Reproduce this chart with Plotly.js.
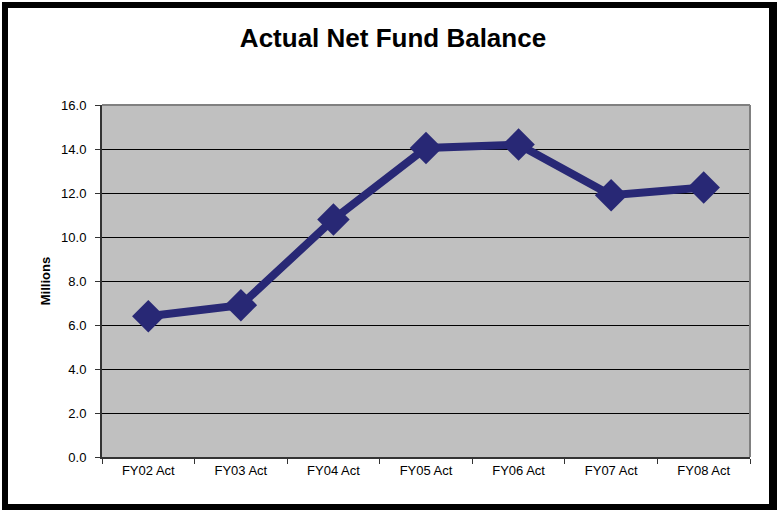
<!DOCTYPE html>
<html>
<head>
<meta charset="utf-8">
<script src="https://cdn.plot.ly/plotly-3.0.1.min.js"></script>
<style>
html,body{margin:0;padding:0;background:#fff;}
#wrap{position:relative;width:779px;height:516px;overflow:hidden;}
#chart{position:absolute;left:0;top:0;width:779px;height:516px;}
#frame{position:absolute;left:2px;top:2px;width:761px;height:496px;border-style:solid;border-color:#000;border-width:6px 8px 6px 6px;pointer-events:none;}
</style>
</head>
<body>
<div id="wrap"><div id="chart"></div><div id="frame"></div></div>
<script>
const categories = ["FY02 Act","FY03 Act","FY04 Act","FY05 Act","FY06 Act","FY07 Act","FY08 Act"];
const netFundBalance = [6.4, 6.9, 10.8, 14.05, 14.2, 11.9, 12.25];
const yTicks = [0,2,4,6,8,10,12,14,16];

const trace = {
  x: categories,
  y: netFundBalance,
  type: 'scatter',
  mode: 'lines+markers',
  line: {color: '#282875', width: 8},
  marker: {symbol: 'diamond', size: 25, color: '#282875'},
  hoverinfo: 'x+y'
};

const layout = {
  width: 779, height: 516,
  margin: {l: 102, r: 29, t: 105, b: 59},
  paper_bgcolor: '#ffffff',
  plot_bgcolor: '#c0c0c0',
  showlegend: false,
  font: {family: 'Liberation Sans, Arial, sans-serif', color: '#000', size: 13},
  title: {
    text: '<b>Actual Net Fund Balance</b>',
    font: {family: 'Liberation Sans, Arial, sans-serif', size: 26, color: '#000'},
    xref: 'container', yref: 'container',
    x: 393/779, xanchor: 'center',
    y: 1 - 38/516, yanchor: 'middle'
  },
  xaxis: {
    type: 'category',
    tickson: 'boundaries',
    ticks: 'outside', ticklen: 5, tickcolor: '#333', tickwidth: 1,
    showline: true, linecolor: '#333', linewidth: 2,
    showgrid: false, zeroline: false,
    tickfont: {size: 13, color: '#000'},
    range: [-0.5, 6.5], fixedrange: true
  },
  yaxis: {
    range: [0, 16],
    tickvals: yTicks,
    tickformat: '.1f',
    ticks: 'outside', ticklen: 5, tickcolor: '#333', tickwidth: 1,
    ticklabelstandoff: 6,
    showline: true, linecolor: '#333', linewidth: 2,
    showgrid: true, gridcolor: '#000', gridwidth: 1,
    zeroline: false,
    tickfont: {size: 13, color: '#000'},
    title: {text: '<b>Millions</b>', font: {size: 13, color: '#000'}, standoff: 8},
    fixedrange: true
  },
  shapes: [
    {type: 'line', xref: 'paper', yref: 'paper', x0: 0, x1: 1, y0: 1, y1: 1, line: {color: '#808080', width: 2}},
    {type: 'line', xref: 'paper', yref: 'paper', x0: 1, x1: 1, y0: 0, y1: 1, line: {color: '#808080', width: 2}}
  ]
};

Plotly.newPlot('chart', [trace], layout, {displayModeBar: false, staticPlot: true});
</script>
</body>
</html>
